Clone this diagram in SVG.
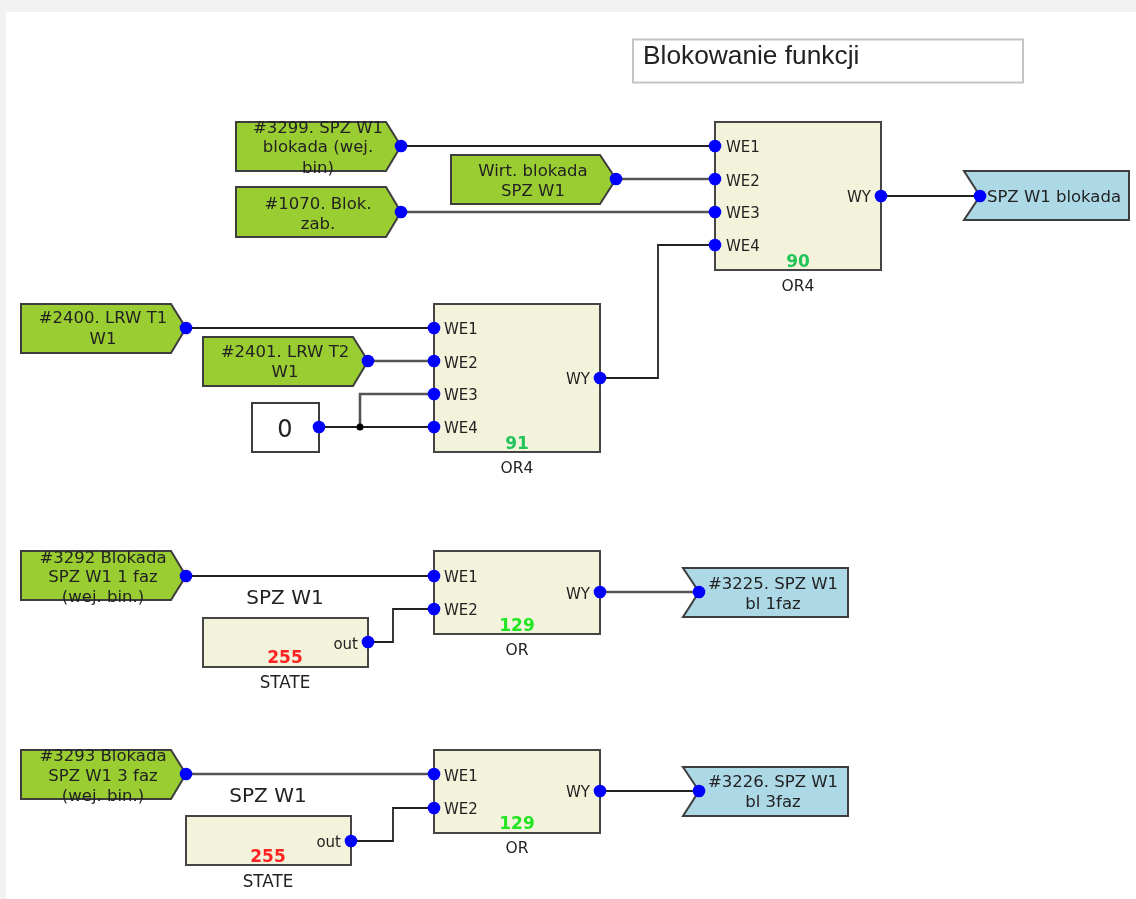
<svg xmlns="http://www.w3.org/2000/svg" width="1136" height="899" viewBox="0 0 1136 899">
<style>
text{font-family:"DejaVu Sans",Verdana,sans-serif;fill:#222}
.l{font-size:16.500px;text-anchor:middle}
.p{font-size:15px}
.e{text-anchor:end}
.n{font-size:17px;font-weight:bold;text-anchor:middle}
.t{font-size:15.500px;text-anchor:middle}
.s{font-size:16.800px;text-anchor:middle}
.h{font-size:20px;text-anchor:middle}
.g{fill:#9acd32;stroke:#3c3c3c;stroke-width:2}
.b{fill:#add8e6;stroke:#3c3c3c;stroke-width:2}
.y{fill:#f3f3dc;stroke:#444;stroke-width:2}
.c{fill:none;stroke:#222;stroke-width:1.800}
.c2{fill:none;stroke:#555;stroke-width:2.600}
.d{fill:#0000ff}
</style>
<defs><circle id="d" r="6.300" class="d"/><filter id="soft" filterUnits="userSpaceOnUse" x="0" y="0" width="1136" height="899"><feGaussianBlur stdDeviation="0.450"/></filter></defs>
<rect width="1136" height="899" fill="#fff"/>
<path d="M0 0H1136V12H6V899H0Z" fill="#f1f1f1"/>
<g filter="url(#soft)">
<g id="title"><rect x="633" y="39.500" width="390" height="43" fill="#fff" stroke="#c4c4c4" stroke-width="2"/><text x="643" y="64" style="font-family:'Liberation Sans',Arial,sans-serif;font-size:26.300px">Blokowanie funkcji</text></g>
<g id="connectors">
<path class="c" d="M401 146H715"/><path class="c2" d="M616 179H715"/><path class="c2" d="M401 212H715"/>
<path class="c" d="M600 378H658V245H715"/><path class="c" d="M881 196H980"/>
<path class="c" d="M186 328H434"/><path class="c2" d="M368 361H434"/><path class="c" d="M319 427H434"/><path class="c2" d="M360 427V394H434"/>
<path class="c" d="M186 576H434"/><path class="c" d="M368 642H393V609H434"/><path class="c2" d="M600 592H699"/>
<path class="c2" d="M186 774H434"/><path class="c" d="M351 841H393V808H434"/><path class="c" d="M600 791H699"/>
<circle cx="360" cy="427" r="3.500" fill="#000"/>
</g>
<g id="in3299"><path class="g" d="M236 122H386L401 146L386 171H236Z"/><text class="l" x="318" y="133">#3299. SPZ W1</text><text class="l" x="318" y="152">blokada (wej.</text><text class="l" x="318" y="173">bin)</text><use href="#d" x="401" y="146"/></g>
<g id="in1070"><path class="g" d="M236 187H386L401 212L386 237H236Z"/><text class="l" x="318" y="209">#1070. Blok.</text><text class="l" x="318" y="229">zab.</text><use href="#d" x="401" y="212"/></g>
<g id="inWirt"><path class="g" d="M451 155H600L616 179L600 204H451Z"/><text class="l" x="533" y="176">Wirt. blokada</text><text class="l" x="533" y="196">SPZ W1</text><use href="#d" x="616" y="179"/></g>
<g id="or90"><rect class="y" x="715" y="122" width="166" height="148"/><text class="p" x="726" y="152">WE1</text><text class="p" x="726" y="186">WE2</text><text class="p" x="726" y="218">WE3</text><text class="p" x="726" y="251">WE4</text><text class="p e" x="871" y="202">WY</text><text class="n" x="798" y="267" style="fill:#21c45a">90</text><text class="t" x="798" y="291">OR4</text><use href="#d" x="715" y="146"/><use href="#d" x="715" y="179"/><use href="#d" x="715" y="212"/><use href="#d" x="715" y="245"/><use href="#d" x="881" y="196"/></g>
<g id="out1"><path class="b" d="M964 171H1129V220H964L980 196Z"/><text class="l" x="1054" y="202">SPZ W1 blokada</text><use href="#d" x="980" y="196"/></g>
<g id="in2400"><path class="g" d="M21 304H171L186 328L171 353H21Z"/><text class="l" x="103" y="323">#2400. LRW T1</text><text class="l" x="103" y="344">W1</text><use href="#d" x="186" y="328"/></g>
<g id="in2401"><path class="g" d="M203 337H353L368 361L353 386H203Z"/><text class="l" x="285" y="357">#2401. LRW T2</text><text class="l" x="285" y="377">W1</text><use href="#d" x="368" y="361"/></g>
<g id="const0"><rect x="252" y="403" width="67" height="49" fill="#fff" stroke="#3c3c3c" stroke-width="2"/><text x="285" y="437" style="font-size:24px;text-anchor:middle">0</text><use href="#d" x="319" y="427"/></g>
<g id="or91"><rect class="y" x="434" y="304" width="166" height="148"/><text class="p" x="444" y="334">WE1</text><text class="p" x="444" y="368">WE2</text><text class="p" x="444" y="400">WE3</text><text class="p" x="444" y="433">WE4</text><text class="p e" x="590" y="384">WY</text><text class="n" x="517" y="449" style="fill:#21c45a">91</text><text class="t" x="517" y="473">OR4</text><use href="#d" x="434" y="328"/><use href="#d" x="434" y="361"/><use href="#d" x="434" y="394"/><use href="#d" x="434" y="427"/><use href="#d" x="600" y="378"/></g>
<g id="in3292"><path class="g" d="M21 551H171L186 576L171 600H21Z"/><text class="l" x="103" y="563">#3292 Blokada</text><text class="l" x="103" y="582">SPZ W1 1 faz</text><text class="l" x="103" y="602">(wej. bin.)</text><use href="#d" x="186" y="576"/></g>
<g id="state1"><text class="h" x="285" y="604">SPZ W1</text><rect class="y" x="203" y="618" width="165" height="49"/><text class="p e" x="358" y="649">out</text><text class="n" x="285" y="663" style="fill:#ff2020">255</text><text class="s" x="285" y="688">STATE</text><use href="#d" x="368" y="642"/></g>
<g id="or129a"><rect class="y" x="434" y="551" width="166" height="83"/><text class="p" x="444" y="582">WE1</text><text class="p" x="444" y="615">WE2</text><text class="p e" x="590" y="599">WY</text><text class="n" x="517" y="631" style="fill:#22e622">129</text><text class="t" x="517" y="655">OR</text><use href="#d" x="434" y="576"/><use href="#d" x="434" y="609"/><use href="#d" x="600" y="592"/></g>
<g id="out3225"><path class="b" d="M683 568H848V617H683L699 592Z"/><text class="l" x="773" y="589">#3225. SPZ W1</text><text class="l" x="773" y="609">bl 1faz</text><use href="#d" x="699" y="592"/></g>
<g id="in3293"><path class="g" d="M21 750H171L186 774L171 799H21Z"/><text class="l" x="103" y="761">#3293 Blokada</text><text class="l" x="103" y="781">SPZ W1 3 faz</text><text class="l" x="103" y="801">(wej. bin.)</text><use href="#d" x="186" y="774"/></g>
<g id="state2"><text class="h" x="268" y="802">SPZ W1</text><rect class="y" x="186" y="816" width="165" height="49"/><text class="p e" x="341" y="847">out</text><text class="n" x="268" y="862" style="fill:#ff2020">255</text><text class="s" x="268" y="887">STATE</text><use href="#d" x="351" y="841"/></g>
<g id="or129b"><rect class="y" x="434" y="750" width="166" height="83"/><text class="p" x="444" y="781">WE1</text><text class="p" x="444" y="814">WE2</text><text class="p e" x="590" y="797">WY</text><text class="n" x="517" y="829" style="fill:#22e622">129</text><text class="t" x="517" y="853">OR</text><use href="#d" x="434" y="774"/><use href="#d" x="434" y="808"/><use href="#d" x="600" y="791"/></g>
<g id="out3226"><path class="b" d="M683 767H848V816H683L699 791Z"/><text class="l" x="773" y="787">#3226. SPZ W1</text><text class="l" x="773" y="807">bl 3faz</text><use href="#d" x="699" y="791"/></g>
</g>
</svg>
